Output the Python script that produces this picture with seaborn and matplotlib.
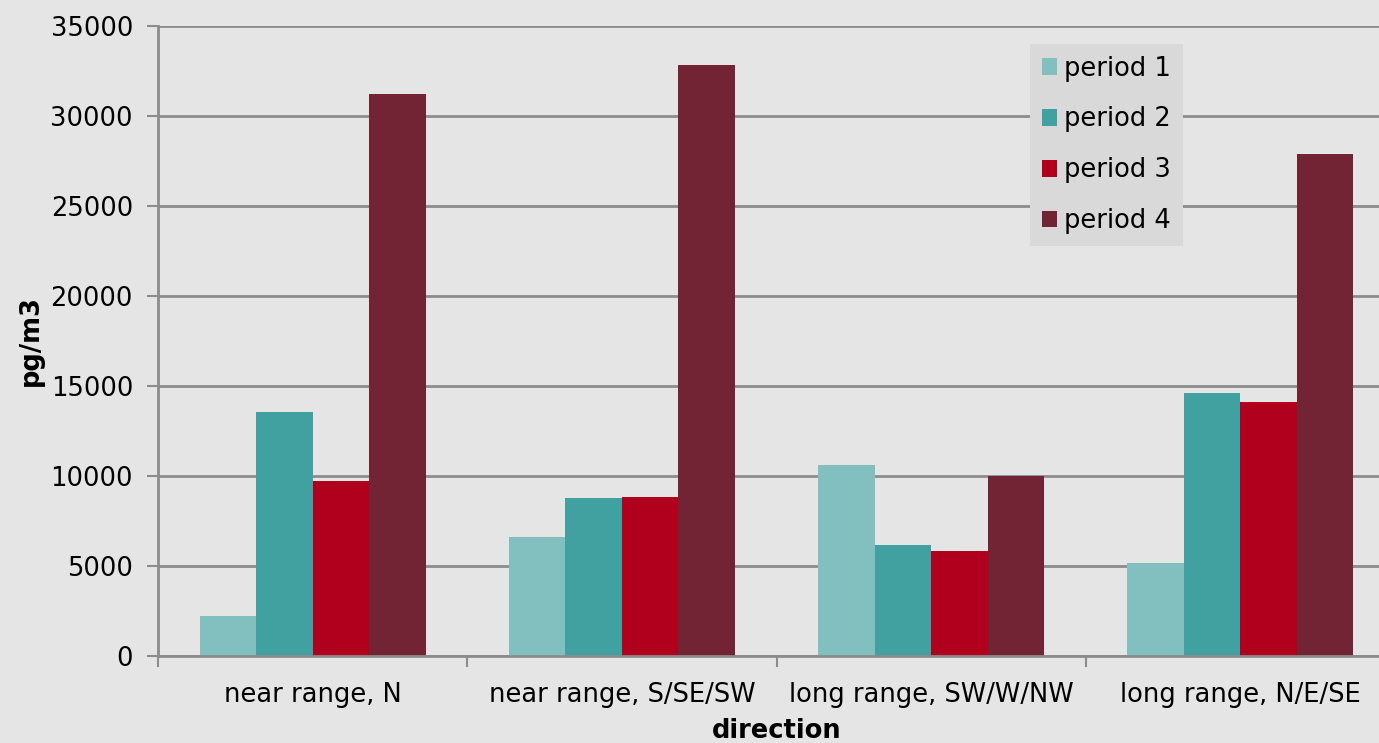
import numpy as np
import pandas as pd
import seaborn as sns
import matplotlib.pyplot as plt

# data
directions = ["near range, N", "near range, S/SE/SW", "long range, SW/W/NW", "long range, N/E/SE"]
periods = ["period 1", "period 2", "period 3", "period 4"]
period_1 = [2250, 6600, 10600, 5190]
period_2 = [13570, 8800, 6150, 14600]
period_3 = [9740, 8850, 5830, 14130]
period_4 = [31250, 32850, 10020, 27870]
colors = ["#82bfbf", "#41a0a0", "#b0001e", "#722334"]

rows = []
for per, vals in zip(periods, [period_1, period_2, period_3, period_4]):
    for d, v in zip(directions, vals):
        rows.append({"direction": d, "period": per, "value": v})
df = pd.DataFrame(rows)

sns.set_theme(style="white")
plt.rcParams["font.family"] = ["DejaVu Sans"]
plt.rcParams["text.color"] = "black"
plt.rcParams["axes.labelcolor"] = "black"
plt.rcParams["xtick.color"] = "black"
plt.rcParams["ytick.color"] = "black"
bg = "#e5e5e5"
grid_c = "#8c8c8c"
fs = 18.5

fig = plt.figure(figsize=(13.79, 7.43), dpi=100, facecolor=bg)
ax = fig.add_axes([158 / 1379, 87 / 743, (1395 - 158) / 1379, (656 - 26) / 743])
ax.set_facecolor(bg)

sns.barplot(data=df, x="direction", y="value", hue="period", hue_order=periods,
            palette=colors, width=0.73, saturation=1, linewidth=0, ax=ax)

ax.set_ylim(0, 35000)
ax.set_xlim(-0.5, 3.5)
ax.set_yticks(np.arange(0, 35001, 5000))
ax.yaxis.grid(True, color=grid_c, linewidth=2)
ax.set_axisbelow(True)
for s in ["top", "right"]:
    ax.spines[s].set_visible(False)
for s in ["left", "bottom"]:
    ax.spines[s].set_color(grid_c)
    ax.spines[s].set_linewidth(2)

ax.tick_params(axis="y", which="major", length=8, width=1.5, color=grid_c, labelcolor="black",
               labelsize=fs, pad=10, left=True)
ax.tick_params(axis="x", which="major", length=0, labelsize=fs, labelcolor="black", pad=19)
ax.set_xticks([-0.5, 0.5, 1.5, 2.5, 3.5], minor=True)
ax.tick_params(axis="x", which="minor", length=8, width=1.5, color=grid_c, bottom=True)

ax.set_xlabel("direction", fontsize=fs, fontweight="bold", labelpad=7, color="black")
ax.set_ylabel("pg/m3", fontsize=fs, fontweight="bold", labelpad=5, color="black")

leg = ax.legend(title=None, loc="upper left", bbox_to_anchor=(1030 / 1379, 1 - 44 / 743),
                bbox_transform=fig.transFigure, fontsize=fs, frameon=True, facecolor="#d9d9d9",
                edgecolor="none", fancybox=False, framealpha=1, handlelength=0.6, handleheight=0.6,
                handletextpad=0.28, labelspacing=0.97, borderpad=0.45, borderaxespad=0)
for t in leg.get_texts():
    t.set_color("black")

fig.savefig("out.png", dpi=100, facecolor=bg)
